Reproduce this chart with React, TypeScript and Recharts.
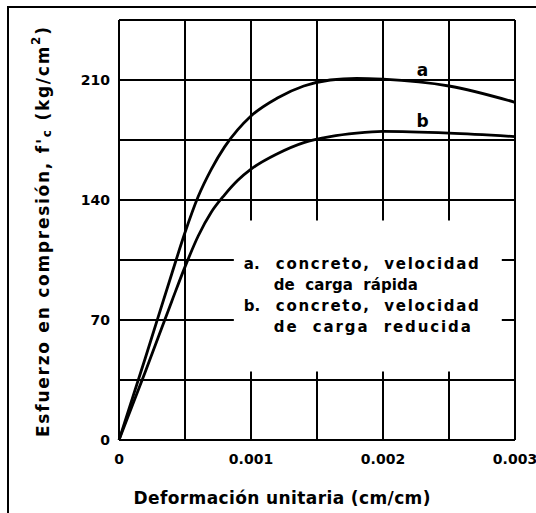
import * as React from 'react';
import { CartesianGrid, Label, Line, LineChart, ReferenceArea, ReferenceDot, XAxis, YAxis } from 'recharts';

// strain (cm/cm) and stress (kg/cm2)
const strainA = [0, 0.0002, 0.0004, 0.0005, 0.0006, 0.0007, 0.0008, 0.0009, 0.001, 0.0012, 0.0014, 0.0016, 0.0018, 0.002, 0.0025, 0.003];
const stressA = [0, 48, 97, 121, 142, 158, 171, 181, 189, 199.5, 206.5, 210, 211, 210.5, 206.5, 197];

const strainB = [0, 0.0002, 0.0004, 0.0005, 0.0006, 0.0007, 0.0008, 0.0009, 0.001, 0.0012, 0.0014, 0.0016, 0.0018, 0.002, 0.0025, 0.003];
const stressB = [0, 40, 81, 101, 119, 133, 143, 151.5, 158, 167, 173.5, 177, 179, 180, 179, 177];

const xGridTicks = [0, 0.0005, 0.001, 0.0015, 0.002, 0.0025, 0.003];
const xLabelTicks = [0, 0.001, 0.002, 0.003];
const xTickLabels = ['0', '0.001', '0.002', '0.003'];

const yGridTicks = [0, 35, 70, 105, 140, 175, 210, 245];
const yLabelTicks = [0, 70, 140, 210];

const legendLines = [
    ['a.', 'concreto,  velocidad'],
    ['', 'de  carga  rápida'],
    ['b.', 'concreto,  velocidad'],
    ['', 'de  carga  reducida'],
];

const seriesA = strainA.map((x, i) => ({x, y: stressA[i]}));
const seriesB = strainB.map((x, i) => ({x, y: stressB[i]}));

const FONT = '"DejaVu Sans", sans-serif';

function formatX(v: number) {
    const i = xLabelTicks.indexOf(v);
    return i >= 0 ? xTickLabels[i] : '';
}

function formatY(v: number) {
    return yLabelTicks.includes(v) ? String(v) : '';
}

function LegendText(props: any) {
    const {viewBox} = props;
    const x0 = viewBox.x;
    const y0 = viewBox.y;
    const lengths = [203, 144, 203, 197];
    return (
        <g fontFamily={FONT} fontWeight="bold" fontSize={15} fill="#000">
            {legendLines.map((line, i) => (
                <g key={i}>
                    {line[0] && <text x={x0 + 10} y={y0 + 48 + i * 21}>{line[0]}</text>}
                    <text
                        x={x0 + (i % 2 === 0 ? 42 : 40)}
                        y={y0 + 48 + i * 21}
                        textLength={lengths[i]}
                        lengthAdjust="spacing"
                        style={{whiteSpace: 'pre'}}
                    >
                        {line[1]}
                    </text>
                </g>
            ))}
        </g>
    );
}

function YTitle() {
    return (
        <text
            x={43}
            y={232}
            transform="rotate(-90 43 232)"
            textAnchor="middle"
            dominantBaseline="central"
            fontFamily={FONT}
            fontWeight="bold"
            fontSize={17}
            fill="#000"
            textLength={410}
            lengthAdjust="spacing"
        >
            Esfuerzo en compresión, f'<tspan dy={4} fontSize={12}>c</tspan>
            <tspan dy={-4}> (kg/cm</tspan>
            <tspan dy={-7} fontSize={12}>2</tspan>
            <tspan dy={7}>)</tspan>
        </text>
    );
}

function XTitle() {
    return (
        <text
            x={282}
            y={504}
            textAnchor="middle"
            fontFamily={FONT}
            fontWeight="bold"
            fontSize={17}
            fill="#000"
            textLength={297}
            lengthAdjust="spacing"
        >
            Deformación unitaria (cm/cm)
        </text>
    );
}

export default function App() {
    const tickStyle = {fill: '#000', fontFamily: FONT, fontWeight: 'bold', fontSize: 14};
    return (
        <div style={{position: 'absolute', left: 0, top: 0, width: 536, height: 513, background: '#fff', overflow: 'hidden'}}>
            <div style={{position: 'absolute', left: 7, top: 6, width: 600, height: 600, borderLeft: '2px solid #000', borderTop: '2px solid #000'}}/>
            <div style={{position: 'absolute', left: 0, top: 0}}>
                <LineChart width={536} height={513} margin={{top: 20, right: 21, bottom: 0, left: 0}}>
                    <CartesianGrid stroke="#000" strokeWidth={2} horizontal={true} vertical={true}/>
                    <XAxis
                        type="number"
                        dataKey="x"
                        domain={[0, 0.003]}
                        ticks={xGridTicks}
                        tickFormatter={formatX}
                        interval={0}
                        height={73}
                        tickLine={false}
                        axisLine={{stroke: '#000', strokeWidth: 2}}
                        tickMargin={8}
                        tick={tickStyle}
                    >
                        <Label content={<XTitle/>}/>
                    </XAxis>
                    <YAxis
                        type="number"
                        domain={[0, 245]}
                        ticks={yGridTicks}
                        tickFormatter={formatY}
                        interval={0}
                        width={119}
                        tickLine={false}
                        axisLine={{stroke: '#000', strokeWidth: 2}}
                        tickMargin={3}
                        tick={tickStyle}
                    >
                        <Label content={<YTitle/>}/>
                    </YAxis>
                    <ReferenceArea
                        x1={0.00087}
                        x2={0.0029}
                        y1={40}
                        y2={128}
                        fill="#fff"
                        fillOpacity={1}
                        stroke="none"
                        label={<LegendText/>}
                    />
                    <Line data={seriesA} dataKey="y" type="monotone" stroke="#000" strokeWidth={2.8} dot={false} isAnimationActive={false}/>
                    <Line data={seriesB} dataKey="y" type="monotone" stroke="#000" strokeWidth={2.8} dot={false} isAnimationActive={false}/>
                    <ReferenceDot x={0.0023} y={216} r={0} fill="none" stroke="none">
                        <Label value="a" position="center" fill="#000" fontFamily={FONT} fontWeight="bold" fontSize={17}/>
                    </ReferenceDot>
                    <ReferenceDot x={0.0023} y={186} r={0} fill="none" stroke="none">
                        <Label value="b" position="center" fill="#000" fontFamily={FONT} fontWeight="bold" fontSize={17}/>
                    </ReferenceDot>
                </LineChart>
            </div>
        </div>
    );
}
